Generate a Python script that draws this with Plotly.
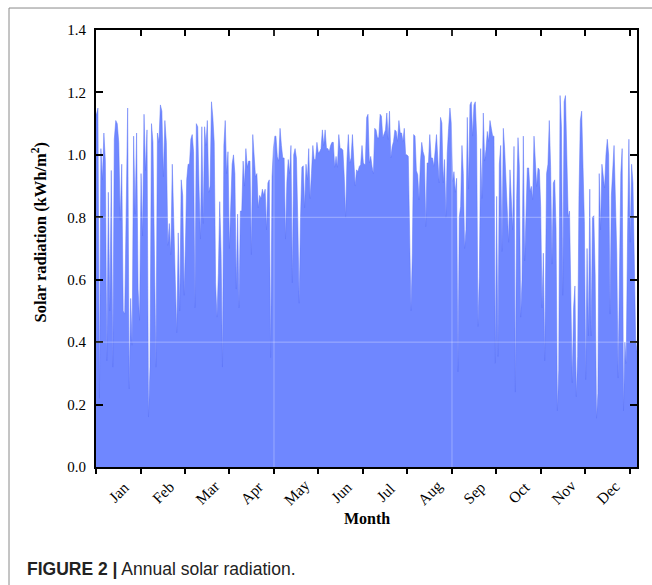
import numpy as np
import plotly.graph_objects as go

# Daily solar radiation values (kWh/m2), in 6 segments
seg_jan_feb = [1.13, 1.15, 0.22, 1.02, 0.92, 1.07, 0.98, 0.34, 0.88, 0.50,
               0.95, 0.32, 1.05, 1.11, 1.10, 1.04, 0.79, 0.97, 0.50, 0.49,
               0.90, 1.15, 0.25, 0.54, 0.39, 1.06, 0.81, 1.07, 0.57, 0.47,
               0.94, 0.74, 1.13, 0.95, 1.08, 0.16, 0.32, 1.10, 1.04, 0.61,
               0.32, 1.07, 1.04, 1.16, 1.14, 0.93, 1.11, 1.04, 0.71, 0.78,
               0.68, 0.97, 0.75, 0.60, 0.43, 0.75, 0.50, 0.92, 0.87, 0.55,
               0.75]
seg_mar_apr = [0.92, 0.97, 0.97, 1.05, 1.065, 1.01, 0.51, 1.10, 1.09, 0.89,
               0.73, 1.09, 0.78, 1.09, 1.03, 1.11, 0.88, 0.90, 1.17, 1.12,
               1.04, 0.59, 0.48, 0.62, 0.85, 0.685, 0.32, 1.03, 1.11, 0.94,
               1.01, 0.70, 0.87, 0.97, 1.00, 0.94, 0.57, 0.81, 0.51, 0.82,
               0.82, 0.98, 0.90, 1.02, 0.96, 0.98, 0.98, 0.68, 1.065, 0.99,
               0.93, 0.94, 0.83, 0.87, 0.86, 0.89, 0.87, 0.89, 0.76, 0.91,
               0.92, 0.35, 0.93, 1.02, 1.06]
seg_may_jun = [1.06, 0.995, 0.98, 1.085, 1.03, 0.99, 0.99, 0.73, 0.915,
               0.985, 0.94, 1.03, 0.59, 1.0, 1.02, 0.99, 0.79, 0.525, 0.80,
               0.96, 0.965, 0.83, 0.97, 0.92, 1.02, 0.86, 0.94, 1.03, 0.985,
               0.985, 1.04, 1.006, 1.01, 1.02, 1.08, 1.03, 1.08, 1.02, 1.02,
               1.01, 1.03, 1.04, 1.04, 0.96, 0.995, 0.96, 1.065, 1.02, 1.02,
               1.015, 0.93, 0.80, 0.985, 1.065, 0.974, 0.99, 1.065, 0.974, 0.90,
               0.952, 0.946, 0.963, 0.968, 1.03, 0.974, 0.968]
seg_jul_aug = [0.97, 1.12, 1.13, 0.974, 0.995, 0.963, 0.94, 1.085, 1.08,
               1.055, 1.055, 1.13, 1.124, 1.055, 1.065, 1.08, 1.134, 1.049, 1.14,
               0.99, 1.027, 1.043, 1.08, 1.075, 1.043, 1.11, 1.07, 1.07, 1.043,
               1.085, 1.0, 1.0, 0.995, 0.685, 0.50, 0.685, 1.065, 1.06, 0.95,
               0.936, 0.856, 0.974, 1.04, 1.01, 0.995, 0.77, 0.974, 0.974, 1.065,
               0.99, 0.99, 0.963, 1.01, 1.065, 0.985, 0.91, 1.12, 1.102, 0.91,
               0.985, 0.80, 1.006, 1.085, 1.15, 1.102, 0.915, 0.946, 0.88]
seg_sep_oct = [0.925, 0.305, 0.80, 0.835, 1.03, 0.94, 0.70, 0.76,
               1.12, 0.89, 1.16, 1.17, 1.06, 1.16, 1.17, 1.06, 0.45, 0.61,
               1.02, 0.86, 1.134, 0.98, 1.017, 1.075, 1.043, 1.11, 1.085, 1.06,
               1.06, 0.33, 0.867, 0.354, 0.97, 1.03, 0.69, 1.085, 1.017, 0.92,
               0.86, 0.72, 0.952, 0.86, 0.76, 1.027, 0.24, 0.86, 1.055, 0.963,
               0.48, 0.60, 1.06, 0.66, 0.835, 0.958, 0.958, 0.883, 0.899, 0.856,
               1.06, 0.995, 0.899, 0.958, 0.952, 0.835, 0.51, 0.685, 0.34]
seg_nov_dec = [0.94, 0.97, 1.11, 0.96, 0.65, 0.91, 0.92, 0.765,
               0.18, 0.31, 1.19, 1.09, 0.55, 1.17, 1.19, 0.94, 0.80, 0.82,
               0.58, 0.27, 0.51, 0.58, 0.225, 0.354, 0.87, 1.11, 1.14, 0.925,
               0.785, 0.28, 0.70, 0.42, 0.89, 0.42, 0.80, 0.805, 0.615, 0.156,
               0.236, 0.94, 0.76, 0.97, 0.92, 0.894, 1.0, 1.05, 1.0, 0.49,
               0.87, 0.979, 1.03, 0.856, 0.685, 0.285, 0.60, 0.94, 1.02, 0.18,
               0.40, 0.33, 0.74, 1.05, 0.72, 0.97, 0.91, 0.62, 0.41, 0.37]

# Day span covered by each segment
seg_spans = [(0.3, 61.3), (62.0, 122.2), (123.0, 183.7),
             (184.1, 245.6), (246.5, 306.7), (308.0, 369.8)]
months = ["Jan", "Feb", "Mar", "Apr", "May", "Jun",
          "Jul", "Aug", "Sep", "Oct", "Nov", "Dec"]
days_in_year = 365
x_end = 369.8

segments = [seg_jan_feb, seg_mar_apr, seg_may_jun, seg_jul_aug, seg_sep_oct, seg_nov_dec]
xs, ys = [0.0], [seg_jan_feb[0]]
for seg, (a, b) in zip(segments, seg_spans):
    xs.extend(np.linspace(a, b, len(seg)).tolist())
    ys.extend(seg)

month_len = days_in_year / 12
bounds = [k * month_len for k in range(13)]
mids = [(k + 0.5) * month_len for k in range(12)]

FILL = "rgb(111,135,255)"
EDGE = "rgb(92,116,246)"
SERIF = "Liberation Serif"

fig = go.Figure()
fig.add_trace(go.Scatter(x=xs, y=ys, mode="lines", fill="tozeroy",
                         fillcolor=FILL, line=dict(color=EDGE, width=0.5),
                         hoverinfo="skip", showlegend=False))
fig.add_trace(go.Scatter(x=[None], y=[None], xaxis="x2", mode="lines",
                         hoverinfo="skip", showlegend=False))

fig.update_layout(
    width=652, height=585,
    margin=dict(l=96, r=15, t=30, b=118),
    paper_bgcolor="white", plot_bgcolor="white",
    font=dict(family=SERIF, size=15, color="black"),
    xaxis=dict(range=[0, x_end], showgrid=False, zeroline=False,
               showline=True, linecolor="black", linewidth=2,
               tickmode="array", tickvals=bounds, ticks="outside",
               ticklen=5, tickwidth=2, tickcolor="black",
               showticklabels=False),
    xaxis2=dict(range=[0, x_end], overlaying="x", side="top",
                showgrid=False, zeroline=False, showline=True,
                linecolor="black", linewidth=2,
                tickmode="array", tickvals=bounds, ticks="inside",
                ticklen=6, tickwidth=2, tickcolor="black",
                showticklabels=False),
    yaxis=dict(range=[0, 1.4], dtick=0.2, tick0=0, tickformat=".1f",
               showgrid=False, zeroline=False, showline=True,
               linecolor="black", linewidth=2, mirror="ticks",
               ticks="inside", ticklen=7, tickwidth=2, tickcolor="black",
               tickfont=dict(family=SERIF, size=15), ticklabelstandoff=5),
)

# faint grid-like lines seen over the fill
shapes = []
for yv in (0.4, 0.8):
    shapes.append(dict(type="line", xref="paper", yref="y", x0=0, x1=1, y0=yv, y1=yv,
                       line=dict(color="rgba(255,255,255,0.35)", width=1), layer="above"))
for xv in (bounds[4], bounds[8]):
    shapes.append(dict(type="line", xref="x", yref="paper", x0=xv, x1=xv, y0=0, y1=1,
                       line=dict(color="rgba(255,255,255,0.3)", width=1), layer="above"))
# outer frame (top and left)
shapes.append(dict(type="line", xref="paper", yref="paper", x0=-0.1608, x1=1.03,
                   y0=1.0503, y1=1.0503, line=dict(color="#8a8a8a", width=1)))
shapes.append(dict(type="line", xref="paper", yref="paper", x0=-0.1608, x1=-0.1608,
                   y0=-0.28, y1=1.0503, line=dict(color="#8a8a8a", width=1)))
fig.update_layout(shapes=shapes)

annotations = []
for m, xm in zip(months, mids):
    annotations.append(dict(x=xm, y=0, xref="x", yref="paper", text=m,
                            showarrow=False, textangle=-45, yshift=-25,
                            xanchor="center", yanchor="middle",
                            font=dict(family=SERIF, size=15.5)))
annotations.append(dict(x=0.5, y=0, xref="paper", yref="paper", text="<b>Month</b>",
                        showarrow=False, yshift=-51, xanchor="center", yanchor="middle",
                        font=dict(family=SERIF, size=16)))
annotations.append(dict(x=0, y=0.5, xref="paper", yref="paper",
                        text="<b>Solar radiation (kWh/m<sup>2</sup>)</b>",
                        showarrow=False, textangle=-90, xshift=-56, yshift=16,
                        xanchor="center", yanchor="middle",
                        font=dict(family=SERIF, size=16.5)))
annotations.append(dict(x=0, y=0, xref="paper", yref="paper",
                        text="<b>FIGURE 2 |</b> Annual solar radiation.",
                        showarrow=False, xshift=-71, yshift=-102,
                        xanchor="left", yanchor="middle",
                        font=dict(family="Liberation Sans", size=17.5, color="#222")))
fig.update_layout(annotations=annotations)

fig.write_html("out.html", config={"displayModeBar": False},
               post_script="document.body.style.margin='0';document.body.style.padding='0';")
